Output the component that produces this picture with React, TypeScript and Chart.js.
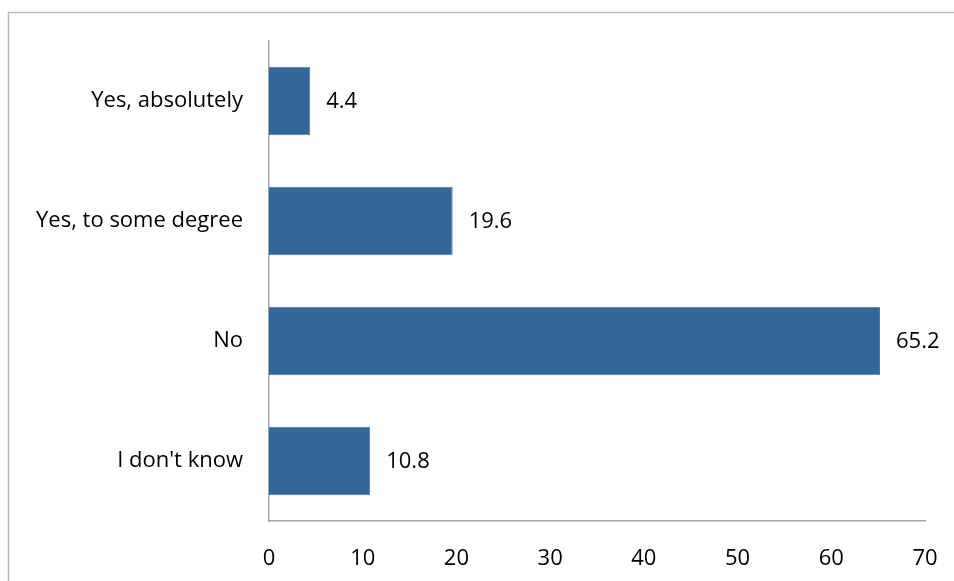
import React, { useEffect, useRef } from "react";
import { Chart, registerables } from "chart.js";

Chart.register(...registerables);

const categories = ["Yes, absolutely", "Yes, to some degree", "No", "I don't know"];
const values = [4.4, 19.6, 65.2, 10.8];
const xMin = 0;
const xMax = 70;
const xStep = 10;

const FONT = "'Open Sans', Lato, sans-serif";

const frameAndLabels = {
  id: "frameAndLabels",
  beforeDraw(chart: any) {
    const ctx = chart.ctx;
    ctx.save();
    ctx.strokeStyle = "#b8b8b8";
    ctx.lineWidth = 1.5;
    ctx.beginPath();
    ctx.moveTo(8.5, 581);
    ctx.lineTo(8.5, 12.5);
    ctx.lineTo(954, 12.5);
    ctx.stroke();
    ctx.restore();
  },
  afterDatasetsDraw(chart: any) {
    const ctx = chart.ctx;
    const meta = chart.getDatasetMeta(0);
    ctx.save();
    ctx.fillStyle = "#000";
    ctx.font = "22px " + FONT;
    ctx.textAlign = "left";
    ctx.textBaseline = "middle";
    meta.data.forEach((bar: any, i: number) => {
      ctx.fillText(String(values[i]), bar.x + 16, bar.y + 1);
    });
    ctx.restore();
  },
};

export default function App() {
  const ref = useRef<HTMLCanvasElement>(null);
  useEffect(() => {
    document.body.style.margin = "0";
    const chart = new Chart(ref.current!, {
      type: "bar",
      data: {
        labels: categories,
        datasets: [
          {
            data: values,
            backgroundColor: "#336699",
            borderColor: "#4a7cae",
            borderWidth: 1,
            barPercentage: 0.57,
            categoryPercentage: 1,
          },
        ],
      },
      options: {
        indexAxis: "y",
        animation: false,
        responsive: false,
        maintainAspectRatio: false,
        layout: { padding: { top: 41, right: 29, bottom: 0, left: 0 } },
        plugins: { legend: { display: false }, tooltip: { enabled: false } },
        scales: {
          x: {
            min: xMin,
            max: xMax,
            ticks: {
              stepSize: xStep,
              padding: 25,
              color: "#000",
              font: { family: FONT, size: 22 },
              maxRotation: 0,
            },
            grid: { display: false, drawTicks: false },
            border: { display: true, color: "#a6a6a6", width: 1.5 },
            afterFit: (s: any) => {
              s.height = 60;
              s.paddingRight = 0;
              s.paddingLeft = 0;
            },
          },
          y: {
            ticks: {
              padding: 26,
              color: "#000",
              font: { family: FONT, size: 22 },
            },
            grid: { display: false, drawTicks: false },
            border: { display: true, color: "#a6a6a6", width: 1.5 },
            afterFit: (s: any) => {
              s.width = 269;
            },
          },
        },
      },
      plugins: [frameAndLabels],
    });
    return () => chart.destroy();
  }, []);
  return (
    <div style={{ position: "absolute", left: 0, top: 0, width: 954, height: 581, background: "#fff" }}>
      <canvas ref={ref} width={954} height={581} style={{ display: "block" }} />
    </div>
  );
}
